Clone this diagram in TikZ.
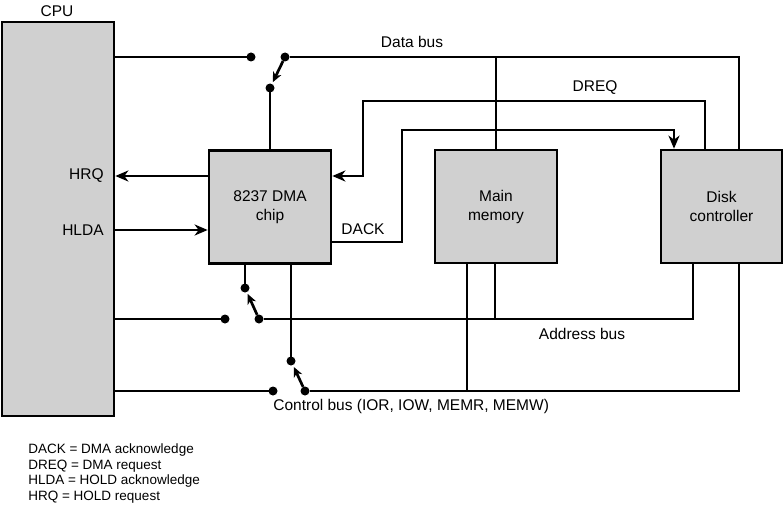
\documentclass[tikz,border=0pt]{standalone}
\usepackage{fontspec}
\setmainfont{Liberation Sans}
\usetikzlibrary{positioning,arrows.meta}
\definecolor{boxgray}{RGB}{208,208,208}
\begin{document}
\begin{tikzpicture}[x=1pt,y=-1pt,line width=2.7pt,
						block/.style={draw,fill=boxgray,minimum width=122pt,minimum height=113pt,align=center,font=\fontsize{15.5}{19}\selectfont},
						dot/.style={circle,fill=black,inner sep=0pt,outer sep=0pt,minimum size=9pt},
						lbl/.style={font=\fontsize{15.5}{18}\selectfont,inner sep=0pt},
						arr/.style={-{Stealth[length=13pt,width=11pt,inset=4pt]}},
						sw/.style={-{Stealth[length=10pt,width=9pt,inset=3pt]},shorten >=2pt}]
		\useasboundingbox (0,0) rectangle (783,505);

		\node[block,minimum width=112pt,minimum height=394pt]	(cpu)	at (58,219)		{};
		\node[block]											(dma)	at (270,207)	{8237 DMA\\chip};
		\node[block]											(mem)	at (496,206.5)	{Main\\memory};
		\node[block,minimum width=121pt]						(disk)	at (721.5,206.5){Disk\\controller};

		% switches
		\node[dot]											(d1)	at (251,57)		{};
		\node[dot,node distance=25pt,right=of d1]			(d2)	{};
		\node[dot,node distance=22pt,below=of d2,xshift=-15pt](d3)	{};
		\node[dot]											(a3)	at (245,288)	{};
		\node[dot,node distance=22pt,below=of a3,xshift=14pt](a2)	{};
		\node[dot,node distance=25pt,left=of a2]			(a1)	{};
		\node[dot]											(c3)	at (291,361)	{};
		\node[dot,node distance=21pt,below=of c3,xshift=14pt](c2)	{};
		\node[dot,node distance=23pt,left=of c2]			(c1)	{};

		\coordinate (dreq) at (363,101);
		\coordinate (dack) at (402,130);

		% data bus
		\draw (cpu.east |- d1) -- (d1);
		\draw (d2) -| ([xshift=17.5pt]disk.north);
		\draw (mem.north |- d2) -- (mem.north);
		\draw (d3) -- (dma.north);
		\draw[sw] (d2) -- (d3);

		% HRQ, HLDA, DREQ, DACK
		\draw[arr] ([yshift=31pt]dma.west) -- (cpu.east |- 0,176);
		\draw[arr] (cpu.east |- 0,230) -- ([yshift=-23pt]dma.west);
		\draw[arr] ([xshift=-16.5pt]disk.north) |- (dreq) |- ([yshift=31pt]dma.east);
		\draw[arr] ([yshift=-35pt]dma.east) -| (dack) -| ([xshift=-47.5pt]disk.north);

		% address bus
		\draw ([xshift=-25pt]dma.south) -- (a3);
		\draw (cpu.east |- a1) -- (a1);
		\draw (a2) -| ([xshift=-28.5pt]disk.south);
		\draw ([xshift=-1pt]mem.south) -- ([xshift=-1pt]mem.south |- a2);
		\draw[sw] (a2) -- (a3);

		% control bus
		\draw ([xshift=21pt]dma.south) -- (c3);
		\draw (cpu.east |- c1) -- (c1);
		\draw (c2) -| ([xshift=17.5pt]disk.south);
		\draw ([xshift=-29pt]mem.south) -- ([xshift=-29pt]mem.south |- c2);
		\draw[sw] (c2) -- (c3);

		\node[lbl]				(cpul)	at (57,11)		{CPU};
		\node[lbl,anchor=east]	(hrq)	at (105,176)	{HRQ};
		\node[lbl,anchor=east]	(hlda)	at (105,230)	{HLDA};
		\node[lbl]				(datal)	at (412,42)		{Data bus};
		\node[lbl]				(dreql)	at (595,88)		{DREQ};
		\node[lbl]				(dackl)	at (363,229)	{DACK};
		\node[lbl]				(addrl)	at (582,334)	{Address bus};
		\node[lbl,anchor=west]	(ctrll)	at (272,406)	{Control bus (IOR, IOW, MEMR, MEMW)};
		\node[anchor=west,align=left,inner sep=0pt,font=\fontsize{13.5}{15.7}\selectfont] (legend) at (27,473.5)
			{DACK = DMA acknowledge\\DREQ = DMA request\\HLDA = HOLD acknowledge\\HRQ = HOLD request};
	\end{tikzpicture}
\end{document}
